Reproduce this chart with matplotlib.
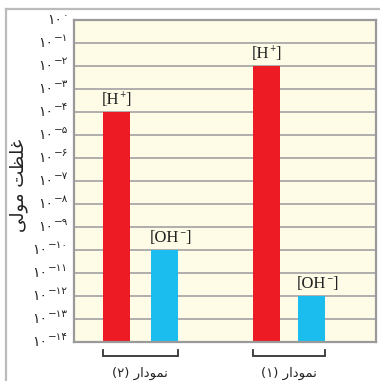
import matplotlib
matplotlib.use("Agg")
import matplotlib.pyplot as plt
from matplotlib.lines import Line2D
import matplotlib.transforms as mtransforms

# ---- data ----
groups = ["\u0646\u0645\u0648\u062f\u0627\u0631 (\u06f2)", "\u0646\u0645\u0648\u062f\u0627\u0631 (\u06f1)"]
# visual (shaped, left-to-right) forms of the group labels
group_labels_visual = ["(\u06f2) \ufead\ufe8d\ufea9\ufeee\ufee4\ufee7",
                       "(\u06f1) \ufead\ufe8d\ufea9\ufeee\ufee4\ufee7"]
species = ["H+", "OH-"]
exponents = [-4, -10, -2, -12]      # [H+](2), [OH-](2), [H+](1), [OH-](1)
values = [10.0 ** e for e in exponents]
bar_labels = ["H", "OH", "H", "OH"]
bar_charges = ["+", "\u2212", "+", "\u2212"]
bar_colors = ["#ED1C24", "#1BBDEF", "#ED1C24", "#1BBDEF"]
positions = [1.57, 3.35, 7.13, 8.80]
tick_exps = list(range(0, -15, -1))
ylabel_visual = "\ufef0\ufedf\ufeee\ufee3 \ufe96\ufec8\ufee0\ufecf"  # غلظت مولی shaped

fa_digits = "\u06f0\u06f1\u06f2\u06f3\u06f4\u06f5\u06f6\u06f7\u06f8\u06f9"
def fa(n):
    return "".join(fa_digits[int(c)] for c in str(n))

W, H = 380, 381
fig = plt.figure(figsize=(W / 100, H / 100), dpi=100)
fig.patch.set_facecolor("white")

ax_l, ax_r, ax_t, ax_b = 74, 376, 20, 342
ax = fig.add_axes([ax_l / W, 1 - ax_b / H, (ax_r - ax_l) / W, (ax_b - ax_t) / H])
ax.set_facecolor("#FEFBE7")
ax.set_yscale("log")
ymin, ymax = 1e-14, 1e0
ax.set_ylim(ymin, ymax)
ax.set_xlim(0, (ax_r - ax_l) / 27.0)

for e in tick_exps[1:-1]:
    ax.axhline(10.0 ** e, color="#A9A9A9", lw=1.3, zorder=1)

for p, v, c in zip(positions, values, bar_colors):
    ax.bar(p, v - ymin, bottom=ymin, width=1.0, color=c, zorder=2, align="center")

for s in ax.spines.values():
    s.set_color("#9A9A9A")
    s.set_linewidth(1.6)
ax.set_xticks([])
ax.set_yticks([10.0 ** e for e in tick_exps])
ax.set_yticklabels([])
ax.yaxis.set_minor_locator(matplotlib.ticker.NullLocator())
ax.tick_params(axis="y", length=0)

fig.canvas.draw()
renderer = fig.canvas.get_renderer()

# tick labels: base "۱۰" plus superscript exponent
trans_lbl = mtransforms.blended_transform_factory(fig.transFigure, ax.transData)
for e in tick_exps:
    exp_txt = fa(0) if e == 0 else "\u2212" + fa(-e)
    te = ax.text(68 / W, 10.0 ** e, exp_txt, transform=trans_lbl, ha="right", va="bottom",
                 fontsize=7.5, family="DejaVu Sans", color="#222222", clip_on=False)
    bb = te.get_window_extent(renderer)
    ax.text((bb.x0 - 0.5) / W, 10.0 ** e, fa(1) + fa(0), transform=trans_lbl,
            ha="right", va="center", fontsize=10, family="DejaVu Sans", color="#222222",
            clip_on=False)

trans_x = mtransforms.blended_transform_factory(ax.transData, ax.transAxes)
for p, v, lab, ch in zip(positions, values, bar_labels, bar_charges):
    t = ax.annotate("[" + lab, xy=(p - 0.5, v), xytext=(-1, 3), textcoords="offset points",
                    ha="left", va="bottom", fontsize=12, family="Liberation Serif",
                    color="#222222", annotation_clip=False)
    bb = t.get_window_extent(renderer)
    fig.text((bb.x1 + 0.5) / W, (bb.y1 - 7) / H, ch, fontsize=5.5, family="DejaVu Sans",
             ha="left", va="bottom", color="#222222")
    fig.text((bb.x1 + 6) / W, bb.y0 / H, "]", fontsize=12, family="Liberation Serif",
             ha="left", va="bottom", color="#222222")

# brackets and group labels
brackets = [(positions[0] - 0.5, positions[1] + 0.5), (positions[2] - 0.5, positions[3] + 0.5)]
for (x0, x1), glab in zip(brackets, group_labels_visual):
    yb = -(356 - ax_b) / (ax_b - ax_t)
    yt = -(350 - ax_b) / (ax_b - ax_t)
    ax.plot([x0, x0, x1, x1], [yt, yb, yb, yt], transform=trans_x, color="#333333",
            lw=1.3, clip_on=False, solid_joinstyle="miter")
    ax.text((x0 + x1) / 2, -(373 - ax_b) / (ax_b - ax_t), glab, transform=trans_x,
            ha="center", va="center", fontsize=9.5, family="DejaVu Sans", color="#222222")

# y label
fig.text(19 / W, 1 - 185 / H, ylabel_visual, rotation=90, ha="center", va="center",
         fontsize=13, family="DejaVu Sans", color="#222222")

# outer frame
fig.add_artist(Line2D([6 / W, 1], [1 - 9 / H, 1 - 9 / H], transform=fig.transFigure,
                      color="#BBBBBB", lw=1.6))
fig.add_artist(Line2D([6 / W, 6 / W], [0, 1 - 9 / H], transform=fig.transFigure,
                      color="#BBBBBB", lw=1.6))

fig.savefig("out.png", dpi=100)
